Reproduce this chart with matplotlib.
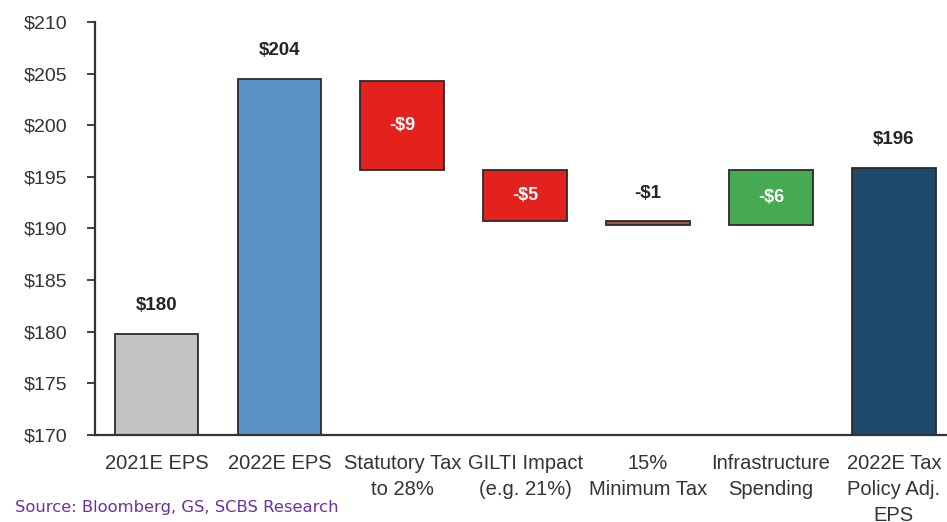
import matplotlib.pyplot as plt

categories = ["2021E EPS", "2022E EPS", "Statutory Tax\nto 28%", "GILTI Impact\n(e.g. 21%)",
              "15%\nMinimum Tax", "Infrastructure\nSpending", "2022E Tax\nPolicy Adj.\nEPS"]
bar_low = [170, 170, 195.65, 190.7, 190.3, 190.3, 170]
bar_high = [179.8, 204.5, 204.3, 195.7, 190.7, 195.7, 195.9]
bar_text = ["$180", "$204", "-$9", "-$5", "-$1", "-$6", "$196"]
text_inside = [False, False, True, True, False, True, False]
bar_colors = ["#C3C3C3", "#5A93C6", "#E3221E", "#E3221E", "#A0553E", "#46AA52", "#1F4A6C"]

y_ticks = [170, 175, 180, 185, 190, 195, 200, 205, 210]

plt.rcParams['font.family'] = ['Liberation Sans', 'DejaVu Sans']

fig = plt.figure(figsize=(9.47, 5.22), dpi=100)
ax = fig.add_axes([0.1003, 0.1667, 0.9085, 0.7912])

x = list(range(len(categories)))
heights = [h - l for l, h in zip(bar_low, bar_high)]
ax.bar(x, heights, bottom=bar_low, width=0.68, color=bar_colors,
       edgecolor="#2b2b2b", linewidth=1.3, zorder=2)

for i in x:
    if text_inside[i]:
        ax.text(i, (bar_low[i] + bar_high[i]) / 2, bar_text[i], ha="center", va="center",
                color="white", fontsize=13, fontweight="bold")
    else:
        ax.text(i, bar_high[i] + 2.7, bar_text[i], ha="center", va="center",
                color="#262626", fontsize=13.5, fontweight="bold")

ax.set_xlim(-0.5, 6.5)
ax.set_ylim(170, 210)
ax.set_yticks(y_ticks)
ax.set_yticklabels(["$%d" % v for v in y_ticks], fontsize=14, color="#333333")
ax.set_xticks(x)
ax.set_xticklabels(categories, fontsize=14.5, color="#333333", linespacing=1.45)
ax.tick_params(axis="x", length=0, pad=14)
ax.tick_params(axis="y", length=6, width=1.3, color="#333333", pad=14)

for s in ["top", "right"]:
    ax.spines[s].set_visible(False)
for s in ["left", "bottom"]:
    ax.spines[s].set_color("#333333")
    ax.spines[s].set_linewidth(1.6)

fig.text(0.016, 0.027, "Source: Bloomberg, GS, SCBS Research", color="#7030A0",
         fontsize=11.8, family="DejaVu Sans", ha="left", va="center")

fig.savefig("out.png", dpi=100)
